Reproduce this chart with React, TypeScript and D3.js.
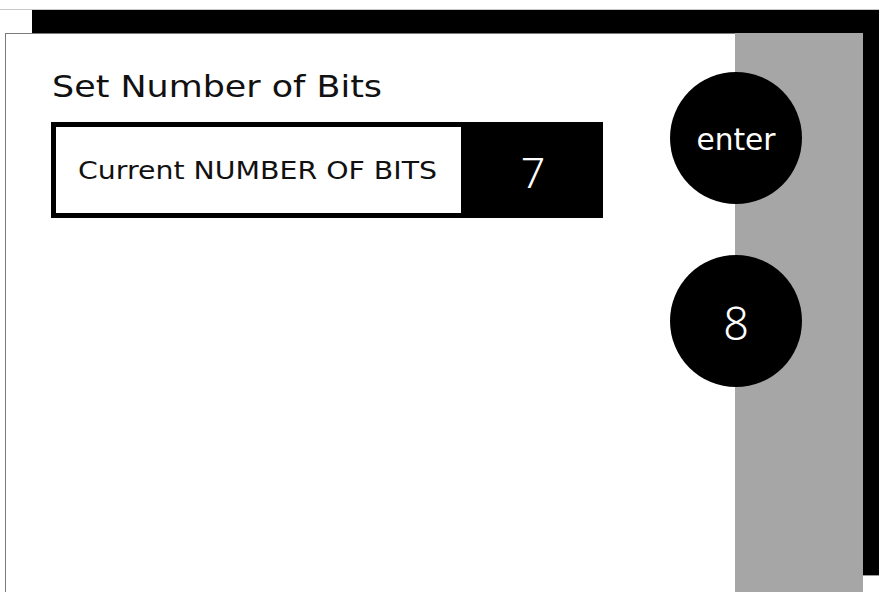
import { useEffect, useRef } from "react";
import * as d3 from "d3";

// screen content
const title = "Set Number of Bits";
const fieldLabel = "Current NUMBER OF BITS";
const currentBits = [7];
const buttonLabels = ["enter", "8"];

const W = 879;
const H = 592;

export default function App() {
  const ref = useRef<SVGSVGElement>(null);

  useEffect(() => {
    document.body.style.margin = "0";
    const svg = d3.select(ref.current);
    svg.selectAll("*").remove();

    const wide = "'DejaVu Sans', 'Noto Sans', sans-serif";

    // drop shadow behind the panel
    svg.append("line")
      .attr("x1", 0).attr("x2", W).attr("y1", 9.5).attr("y2", 9.5)
      .attr("stroke", "#c8c8c8").attr("stroke-width", 1);
    svg.append("rect")
      .attr("x", 32).attr("y", 10).attr("width", W - 32).attr("height", 565)
      .attr("fill", "#000");
    svg.append("line")
      .attr("x1", 863).attr("x2", W).attr("y1", 575.5).attr("y2", 575.5)
      .attr("stroke", "#9a9a9a");

    // white panel
    svg.append("rect")
      .attr("x", 5.5).attr("y", 33.5).attr("width", 857).attr("height", H)
      .attr("fill", "#fff").attr("stroke", "#7a7a7a").attr("stroke-width", 1);

    // grey side column
    svg.append("rect")
      .attr("x", 735).attr("y", 33).attr("width", 128).attr("height", H - 33)
      .attr("fill", "#a6a6a6");

    // title
    svg.append("text")
      .attr("x", 52).attr("y", 97)
      .attr("font-family", wide).attr("font-size", 30)
      .attr("textLength", 330).attr("lengthAdjust", "spacingAndGlyphs")
      .attr("fill", "#111")
      .text(title);

    // field: white label cell + black value cell
    const fx = d3.scaleLinear().domain([0, 1]).range([51, 603]);
    svg.append("rect")
      .attr("x", fx(0)).attr("y", 122).attr("width", fx(1) - fx(0)).attr("height", 96)
      .attr("fill", "#000");
    svg.append("rect")
      .attr("x", 56).attr("y", 127).attr("width", 405).attr("height", 86)
      .attr("fill", "#fff");
    svg.append("text")
      .attr("x", 78).attr("y", 179)
      .attr("font-family", wide)
      .attr("font-size", 24)
      .attr("textLength", 359).attr("lengthAdjust", "spacingAndGlyphs")
      .attr("fill", "#111")
      .text(fieldLabel);
    svg.selectAll("text.val")
      .data(currentBits)
      .enter()
      .append("text")
      .attr("class", "val")
      .attr("x", 533).attr("y", 188)
      .attr("text-anchor", "middle")
      .attr("font-family", "'Noto Sans', sans-serif")
      .attr("font-size", 43)
      .attr("font-weight", 300)
      .attr("fill", "#fff")
      .text((d) => String(d));

    // round buttons
    const by = d3.scalePoint<string>().domain(buttonLabels).range([138, 321]);
    const g = svg.selectAll("g.btn")
      .data(buttonLabels)
      .enter()
      .append("g")
      .attr("class", "btn")
      .attr("transform", (d) => "translate(736," + by(d) + ")");
    g.append("circle").attr("r", 66).attr("fill", "#000");
    g.append("text")
      .attr("text-anchor", "middle")
      .attr("y", (d, i) => (i === 0 ? 12 : 19))
      .attr("font-family", (d, i) => (i === 0 ? wide : "'Noto Sans', sans-serif"))
      .attr("font-size", (d, i) => (i === 0 ? 30 : 45))
      .attr("font-weight", (d, i) => (i === 0 ? 400 : 300))
      .attr("fill", "#fff")
      .each(function (d, i) {
        if (i === 0) d3.select(this).attr("textLength", 79).attr("lengthAdjust", "spacingAndGlyphs");
      })
      .text((d) => d);
  }, []);

  return <svg ref={ref} width={W} height={H} style={{ display: "block" }}></svg>;
}
